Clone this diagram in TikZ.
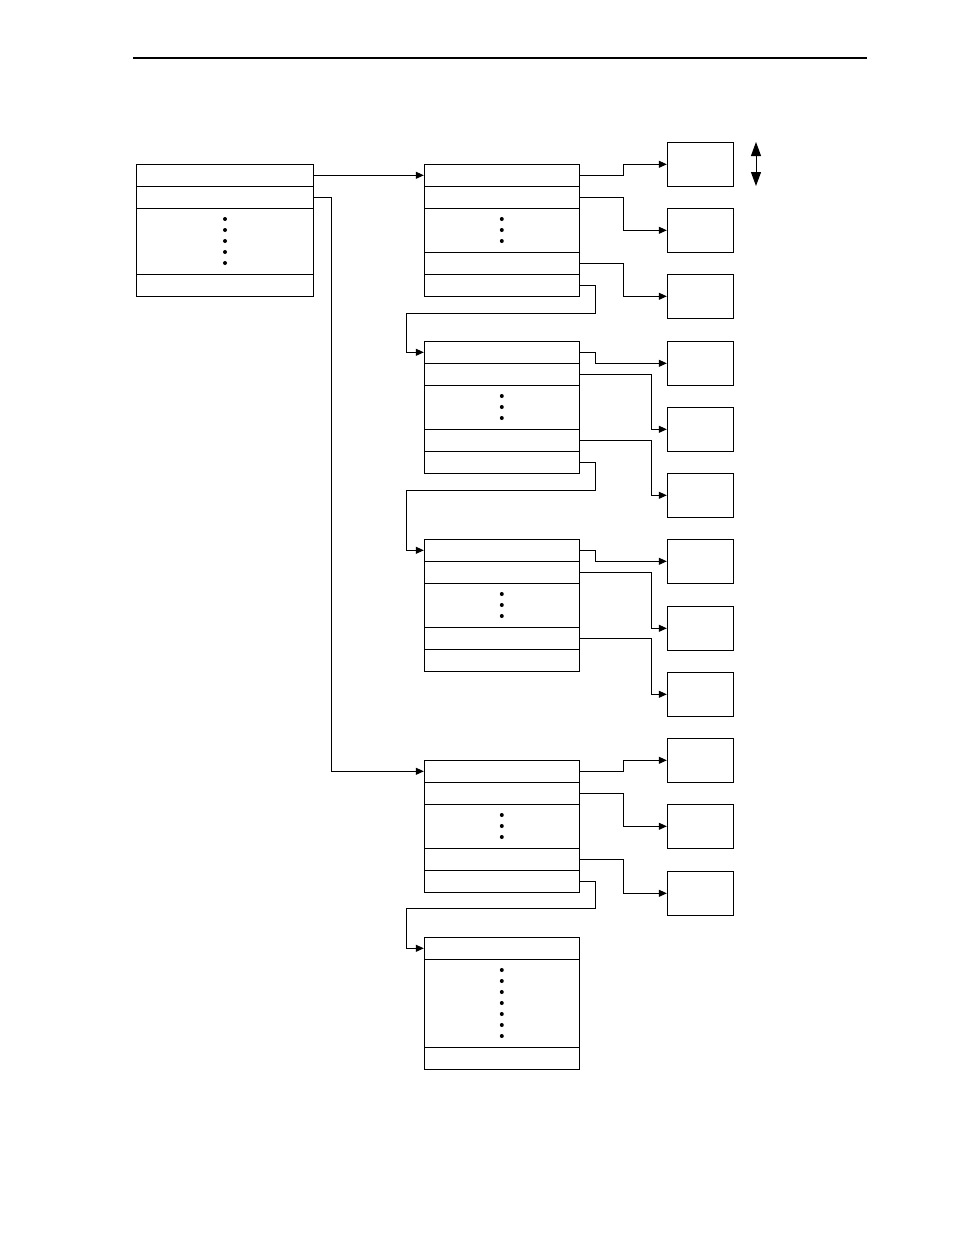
\documentclass[tikz,border=0pt]{standalone}
\usetikzlibrary{arrows.meta, positioning, calc}

\tikzset{
  cell/.style={draw, line width=1pt, minimum width=155pt, minimum height=22pt, inner sep=0pt},
  leaf/.style={draw, line width=1pt, minimum width=66pt, minimum height=44pt, inner sep=0pt},
  link/.style={line width=1pt, -{Triangle[length=8pt,width=7pt]}},
  dot/.style={circle, fill, inner sep=0pt, minimum size=4pt}
}

\begin{document}
\begin{tikzpicture}[x=1pt, y=-1pt]
\useasboundingbox (0,0) rectangle (954,1235);
\draw[line width=1.2pt] (133,58) -- (867,58);

% root record
\node[cell, minimum width=177pt] (a-r1) at (225,175.3) {};
\node[cell, minimum width=177pt] (a-r2) at (225,197.3) {};
\node[cell, minimum width=177pt, minimum height=66pt] (a-r3) at (225,241.3) {};
\node[cell, minimum width=177pt] (a-r4) at (225,285.3) {};
\foreach \k in {0,...,4}
  \node[dot] (a-dot\k) at (225,219+11*\k) {};

% chained records
\foreach \n/\y in {b1/0, b2/177, b3/375, b4/596} {
  \node[cell] (\n-r1) at (501.8,175.3+\y) {};
  \node[cell] (\n-r2) at (501.8,197.3+\y) {};
  \node[cell, minimum height=44pt] (\n-r3) at (501.8,230.3+\y) {};
  \node[cell] (\n-r4) at (501.8,263.3+\y) {};
  \node[cell] (\n-r5) at (501.8,285.3+\y) {};
  \foreach \k in {0,1,2}
    \node[dot] (\n-dot\k) at (501.8,219+\y+11*\k) {};
}

% last record
\node[cell] (e-r1) at (501.8,948.3) {};
\node[cell, minimum height=88pt] (e-r2) at (501.8,1003.3) {};
\node[cell] (e-r3) at (501.8,1058.8) {};
\foreach \k in {0,...,6}
  \node[dot] (e-dot\k) at (501.8,970+11*\k) {};

% leaf boxes
\foreach \i/\y in {1/164.3, 2/230.3, 3/296.3, 4/363.3, 5/429.3, 6/495.3,
                   7/561.3, 8/628.3, 9/694.3, 10/760.3, 11/826.3, 12/893.3}
  \node[leaf] (leaf\i) at (700.3,\y) {};

% root links
\draw[link] (a-r1.east) -- (b1-r1.west);
\draw[link] (a-r2.east) -- ++(17,0) |- (b4-r1.west);

% record to leaf links
\foreach \n/\a/\b/\c/\sa/\sb in {b1/1/2/3/44/44, b2/4/5/6/16/72,
                                 b3/7/8/9/16/72, b4/10/11/12/44/44} {
  \draw[link] (\n-r1.east) -- ++(\sa,0) |- (leaf\a.west);
  \draw[link] (\n-r2.east) -- ++(\sb,0) |- (leaf\b.west);
  \draw[link] (\n-r4.east) -- ++(\sb,0) |- (leaf\c.west);
}

% next-record links
\draw[link] (b1-r5.east) -- ++(16,0) -- ++(0,28) -| ([xshift=-17pt]b2-r1.west) -- (b2-r1.west);
\draw[link] (b2-r5.east) -- ++(16,0) -- ++(0,28) -| ([xshift=-17pt]b3-r1.west) -- (b3-r1.west);
\draw[link] (b4-r5.east) -- ++(16,0) -- ++(0,27) -| ([xshift=-17pt]e-r1.west) -- (e-r1.west);

% double arrow
\coordinate (up) at (756,142);
\coordinate (down) at (756,186);
\draw[line width=1pt, {Triangle[length=14pt,width=10pt]}-{Triangle[length=14pt,width=10pt]}] (up) -- (down);
\end{tikzpicture}
\end{document}
